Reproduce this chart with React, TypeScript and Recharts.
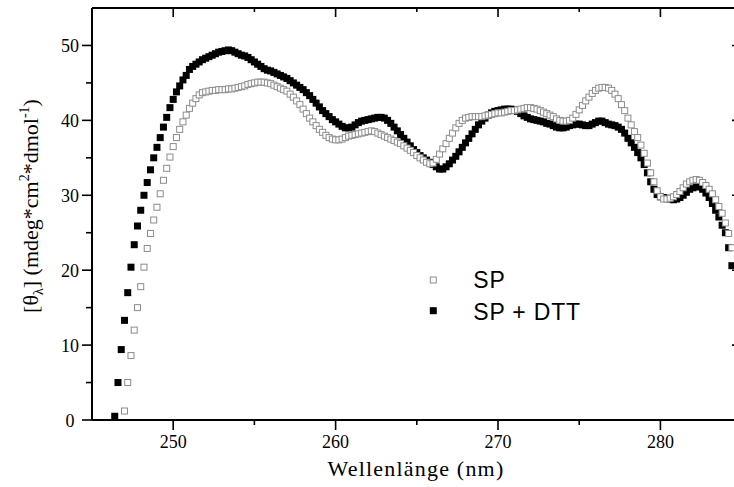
import React from 'react';
import { ScatterChart, Scatter, XAxis, YAxis, Legend } from 'recharts';

// wavelength grid (nm), 0.2 nm steps
const wavelength = [
  246.4, 246.6, 246.8, 247, 247.2, 247.4, 247.6, 247.8, 248, 248.2,
  248.4, 248.6, 248.8, 249, 249.2, 249.4, 249.6, 249.8, 250, 250.2,
  250.4, 250.6, 250.8, 251, 251.2, 251.4, 251.6, 251.8, 252, 252.2,
  252.4, 252.6, 252.8, 253, 253.2, 253.4, 253.6, 253.8, 254, 254.2,
  254.4, 254.6, 254.8, 255, 255.2, 255.4, 255.6, 255.8, 256, 256.2,
  256.4, 256.6, 256.8, 257, 257.2, 257.4, 257.6, 257.8, 258, 258.2,
  258.4, 258.6, 258.8, 259, 259.2, 259.4, 259.6, 259.8, 260, 260.2,
  260.4, 260.6, 260.8, 261, 261.2, 261.4, 261.6, 261.8, 262, 262.2,
  262.4, 262.6, 262.8, 263, 263.2, 263.4, 263.6, 263.8, 264, 264.2,
  264.4, 264.6, 264.8, 265, 265.2, 265.4, 265.6, 265.8, 266, 266.2,
  266.4, 266.6, 266.8, 267, 267.2, 267.4, 267.6, 267.8, 268, 268.2,
  268.4, 268.6, 268.8, 269, 269.2, 269.4, 269.6, 269.8, 270, 270.2,
  270.4, 270.6, 270.8, 271, 271.2, 271.4, 271.6, 271.8, 272, 272.2,
  272.4, 272.6, 272.8, 273, 273.2, 273.4, 273.6, 273.8, 274, 274.2,
  274.4, 274.6, 274.8, 275, 275.2, 275.4, 275.6, 275.8, 276, 276.2,
  276.4, 276.6, 276.8, 277, 277.2, 277.4, 277.6, 277.8, 278, 278.2,
  278.4, 278.6, 278.8, 279, 279.2, 279.4, 279.6, 279.8, 280, 280.2,
  280.4, 280.6, 280.8, 281, 281.2, 281.4, 281.6, 281.8, 282, 282.2,
  282.4, 282.6, 282.8, 283, 283.2, 283.4, 283.6, 283.8, 284, 284.2,
  284.4,
];

// SP (open squares)
const sp: (number | null)[] = [
  null, null, null, 1.2, 5.0, 8.6, 12.0, 15.0, 17.8, 20.4,
  22.9, 24.9, 26.7, 28.4, 30.2, 32.0, 33.6, 35.1, 36.5, 37.7,
  38.8, 39.8, 40.7, 41.6, 42.3, 42.9, 43.4, 43.7, 43.8, 43.9,
  44.0, 44.0, 44.1, 44.1, 44.1, 44.2, 44.2, 44.3, 44.4, 44.5,
  44.6, 44.8, 44.9, 45.0, 45.1, 45.1, 45.1, 45.0, 44.9, 44.7,
  44.5, 44.3, 44.1, 43.9, 43.5, 43.1, 42.6, 42.1, 41.5, 40.9,
  40.3, 39.8, 39.3, 38.8, 38.4, 38.0, 37.7, 37.5, 37.4, 37.4,
  37.5, 37.7, 37.9, 38.0, 38.1, 38.2, 38.3, 38.4, 38.5, 38.6,
  38.5, 38.3, 38.1, 37.9, 37.7, 37.5, 37.3, 37.1, 36.9, 36.6,
  36.3, 36.0, 35.7, 35.3, 35.0, 34.7, 34.4, 34.2, 34.3, 34.8,
  35.5, 36.2, 36.9, 37.6, 38.3, 39.0, 39.6, 40.0, 40.3, 40.4,
  40.5, 40.5, 40.5, 40.5, 40.6, 40.7, 40.8, 40.9, 41.0, 41.0,
  41.1, 41.2, 41.3, 41.3, 41.4, 41.5, 41.6, 41.7, 41.7, 41.6,
  41.5, 41.3, 41.1, 40.9, 40.7, 40.5, 40.2, 40.0, 39.9, 39.9,
  40.0, 40.3, 40.8, 41.4, 42.0, 42.6, 43.1, 43.6, 44.0, 44.3,
  44.4, 44.4, 44.3, 44.0, 43.5, 42.9, 42.1, 41.3, 40.3, 39.4,
  38.5, 37.7, 36.7, 35.6, 34.3, 33.0, 31.8, 30.6, 29.8, 29.5,
  29.5, 29.6, 29.8, 30.1, 30.5, 31.0, 31.5, 31.8, 32.0, 32.1,
  32.0, 31.7, 31.3, 30.8, 30.2, 29.4, 28.5, 27.6, 26.3, 24.9,
  23.0,
];

// SP + DTT (filled squares)
const spDtt: (number | null)[] = [
  0.5, 5.0, 9.4, 13.3, 17.0, 20.4, 23.4, 25.9, 28.0, 30.0,
  31.7, 33.4, 35.0, 36.4, 37.7, 39.1, 40.4, 41.7, 42.8, 43.8,
  44.6, 45.4, 46.0, 46.8, 47.2, 47.5, 47.8, 48.1, 48.3, 48.5,
  48.7, 48.9, 49.1, 49.2, 49.3, 49.4, 49.3, 49.1, 48.9, 48.7,
  48.6, 48.4, 48.1, 47.8, 47.5, 47.2, 46.9, 46.7, 46.6, 46.4,
  46.2, 46.0, 45.8, 45.6, 45.3, 45.0, 44.7, 44.4, 44.1, 43.7,
  43.3, 42.8, 42.3, 41.8, 41.3, 40.9, 40.5, 40.1, 39.8, 39.5,
  39.2, 39.0, 39.0, 39.1, 39.4, 39.7, 39.9, 40.0, 40.1, 40.2,
  40.3, 40.4, 40.4, 40.3, 40.0, 39.6, 39.1, 38.6, 38.1, 37.6,
  37.1, 36.6, 36.1, 35.7, 35.3, 35.0, 34.7, 34.4, 34.1, 33.8,
  33.5, 33.5, 33.8, 34.2, 34.7, 35.2, 35.8, 36.4, 37.0, 37.6,
  38.2, 38.8, 39.4, 39.9, 40.3, 40.7, 41.0, 41.2, 41.3, 41.4,
  41.5, 41.5, 41.5, 41.4, 41.2, 40.9, 40.6, 40.4, 40.2, 40.1,
  40.0, 39.9, 39.8, 39.6, 39.5, 39.3, 39.1, 39.0, 39.0, 39.1,
  39.3, 39.4, 39.5, 39.5, 39.4, 39.3, 39.3, 39.5, 39.7, 39.9,
  39.9, 39.7, 39.5, 39.4, 39.3, 39.1, 38.8, 38.3, 37.6, 37.0,
  36.4, 35.7, 35.0, 34.1, 33.0, 31.8, 30.8, 30.1, 29.8, 29.7,
  29.6, 29.5, 29.4, 29.5, 29.7, 30.0, 30.4, 30.8, 31.0, 31.2,
  31.1, 30.8, 30.3, 29.7, 28.9, 28.0, 27.1, 26.0, 25.0, 23.0,
  20.6,
];

const xTicks = [250, 255, 260, 265, 270, 275, 280];
const yTicks = [0, 5, 10, 15, 20, 25, 30, 35, 40, 45, 50];
const xDomain = [245, 284.9];
const yDomain = [0, 55];

const toPoints = (vals: (number | null)[]) =>
  wavelength
    .map((x, i) => ({ x, y: vals[i] }))
    .filter((d) => d.y !== null && d.y !== undefined);

const spData = toPoints(sp);
const dttData = toPoints(spDtt);

const serif = '"Liberation Serif", "Times New Roman", serif';
const sans = '"Liberation Sans", Arial, sans-serif';

const BottomTick = (props: any) => {
  const { x, y, payload } = props;
  const major = payload.value % 10 === 0;
  return (
    <g>
      <line x1={x} y1={y} x2={x} y2={y + (major ? 10 : 5)} stroke="#000" strokeWidth={1.6} />
      {major && (
        <text x={x} y={y + 28} textAnchor="middle" fontFamily={serif} fontSize={18} fill="#000">
          {payload.value}
        </text>
      )}
    </g>
  );
};

const TopTick = (props: any) => {
  const { x, y, payload } = props;
  const major = payload.value % 10 === 0;
  return <line x1={x} y1={y} x2={x} y2={y + (major ? 9 : 4)} stroke="#000" strokeWidth={1.6} />;
};

const LeftTick = (props: any) => {
  const { x, y, payload } = props;
  const major = payload.value % 10 === 0;
  return (
    <g>
      <line x1={x - (major ? 10 : 6)} y1={y} x2={x} y2={y} stroke="#000" strokeWidth={1.6} />
      {major && (
        <text x={x - 22} y={y + 6.5} textAnchor="middle" fontFamily={serif} fontSize={18} fill="#000">
          {payload.value}
        </text>
      )}
    </g>
  );
};

const RightTick = (props: any) => {
  const { x, y, payload } = props;
  const major = payload.value % 10 === 0;
  return <line x1={x - (major ? 8 : 4)} y1={y} x2={x} y2={y} stroke="#000" strokeWidth={1.6} />;
};

const OpenSquare = (props: any) => (
  <rect x={props.cx - 3} y={props.cy - 3} width={6} height={6} fill="#fff" stroke="#8c8c8c" strokeWidth={1} />
);

const FilledSquare = (props: any) => (
  <rect x={props.cx - 3.5} y={props.cy - 3.5} width={7} height={7} fill="#000" />
);

const XTitle = () => (
  <text x={416} y={476} textAnchor="middle" fontFamily={serif} fontSize={22} letterSpacing={1.2} fill="#000">
    Wellenlänge (nm)
  </text>
);

const YTitle = () => (
  <text
    x={38}
    y={206}
    transform="rotate(-90 38 206)"
    textAnchor="middle"
    fontFamily={serif}
    fontSize={22}
    fill="#000"
  >
    [θ<tspan dy={5} fontSize={14}>λ</tspan>
    <tspan dy={-5}>] (mdeg*cm</tspan>
    <tspan dy={-9} fontSize={14}>2</tspan>
    <tspan dy={9}>*dmol</tspan>
    <tspan dy={-9} fontSize={14}>-1</tspan>
    <tspan dy={9}>)</tspan>
  </text>
);

const LegendBox = () => (
  <svg width={200} height={70} style={{ display: 'block' }}>
    <rect x={10.3} y={17} width={6} height={6} fill="#fff" stroke="#8c8c8c" strokeWidth={1} />
    <text x={53.3} y={28.3} fontFamily={sans} fontSize={23} letterSpacing={0.8} fill="#000">
      SP
    </text>
    <rect x={9.8} y={47.2} width={7} height={7} fill="#000" />
    <text x={53.3} y={60} fontFamily={sans} fontSize={23} letterSpacing={0.8} fill="#000">
      SP + DTT
    </text>
  </svg>
);

export default function App() {
  return (
    <div style={{ position: 'absolute', left: 0, top: 0, width: 734, height: 487, overflow: 'hidden', background: '#fff' }}>
      <ScatterChart width={760} height={487} margin={{ top: 6, right: 18, bottom: 37, left: 32 }}>
        <XAxis
          xAxisId="bottom"
          type="number"
          dataKey="x"
          orientation="bottom"
          domain={xDomain}
          allowDataOverflow
          ticks={xTicks}
          interval={0}
          height={30}
          tickSize={0}
          tickMargin={0}
          tickLine={false}
          axisLine={{ stroke: '#000', strokeWidth: 2 }}
          tick={BottomTick}
          label={<XTitle />}
        />
        <XAxis
          xAxisId="top"
          type="number"
          dataKey="x"
          orientation="top"
          domain={xDomain}
          allowDataOverflow
          ticks={xTicks}
          interval={0}
          height={2}
          tickSize={0}
          tickMargin={0}
          tickLine={false}
          axisLine={{ stroke: '#000', strokeWidth: 2 }}
          tick={TopTick}
        />
        <YAxis
          yAxisId="left"
          type="number"
          dataKey="y"
          orientation="left"
          domain={yDomain}
          allowDataOverflow
          ticks={yTicks}
          interval={0}
          width={60}
          tickSize={0}
          tickMargin={0}
          tickLine={false}
          axisLine={{ stroke: '#000', strokeWidth: 2 }}
          tick={LeftTick}
          label={<YTitle />}
        />
        <YAxis
          yAxisId="right"
          type="number"
          dataKey="y"
          orientation="right"
          domain={yDomain}
          allowDataOverflow
          ticks={yTicks}
          interval={0}
          width={2}
          tickSize={0}
          tickMargin={0}
          tickLine={false}
          axisLine={{ stroke: '#000', strokeWidth: 2 }}
          tick={RightTick}
        />
        <Scatter
          name="SP + DTT"
          data={dttData}
          xAxisId="top"
          yAxisId="right"
          shape={FilledSquare}
          isAnimationActive={false}
        />
        <Scatter
          name="SP"
          data={spData}
          xAxisId="bottom"
          yAxisId="left"
          shape={OpenSquare}
          isAnimationActive={false}
        />
        <Legend
          layout="vertical"
          align="center"
          verticalAlign="middle"
          wrapperStyle={{ left: 420, top: 260, width: 200, height: 70 }}
          content={() => <LegendBox />}
        />
      </ScatterChart>
    </div>
  );
}
